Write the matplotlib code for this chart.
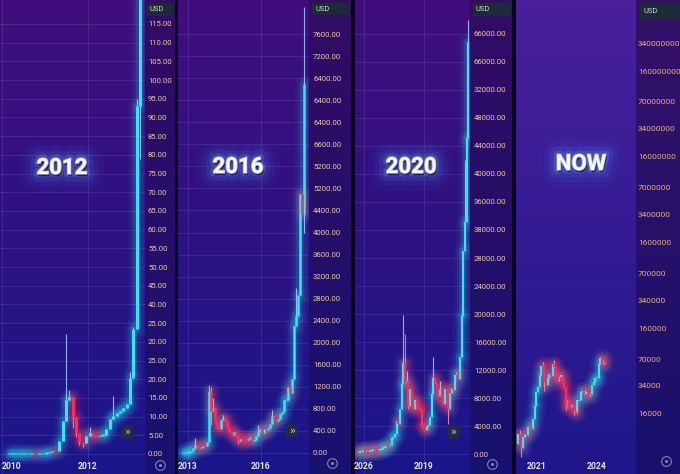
import numpy as np
import matplotlib
matplotlib.use('Agg')
import matplotlib.pyplot as plt
from matplotlib.patches import Rectangle, FancyBboxPatch
import matplotlib.patheffects as pe
from matplotlib.ticker import NullLocator

plt.rcParams['font.family'] = ['Roboto', 'DejaVu Sans']

W, H = 680, 474

# ---------------- data (monthly candles) ----------------
# Panel 1 : Jan 2010 - Apr 2013
p1_start = 2010.0
p1_open0 = 0.05
p1_close = [0.05, 0.05, 0.05, 0.05, 0.05, 0.05, 0.07, 0.07, 0.06, 0.19, 0.21, 0.30,
            0.5, 0.9, 0.8, 3.5, 8.7, 14.5, 15.2, 10.0, 5.5, 3.3, 2.9, 4.7,
            5.5, 4.9, 4.8, 5.0, 5.2, 6.6, 9.3, 10.1, 11.0, 11.6, 12.3, 13.4,
            20.4, 33.4, 93.0, 139.0]
p1_hi_idx = [17, 18, 24, 31, 36, 37, 38, 39]
p1_hi_val = [32, 17, 7.2, 15.5, 22, 34, 95, 266]
p1_lo_idx = [19, 20, 21, 22, 39]
p1_lo_val = [7.0, 4.5, 2.3, 2.0, 79]
p1_ticks = [115, 110, 105, 100, 95, 90, 85, 80, 75, 70, 65, 60, 55, 50, 45, 40, 35, 30, 25, 20, 15, 10, 5, 0]
p1_labels = ['115.00', '110.00', '105.00', '100.00', '95.00', '90.00', '85.00', '80.00', '75.00',
             '70.00', '65.00', '60.00', '55.00', '50.00', '45.00', '40.00', '25.00', '20.00',
             '25.00', '20.00', '15.00', '10.00', '5.00', '0.00']
p1_xticks = [2009.88, 2012]
p1_xlabels = ['2010', '2012']

# Panel 2 : Oct 2012 - Oct 2017
p2_start = 2012.75
p2_open0 = 11.0
p2_close = [11.6, 12.3, 13.4,
            20.4, 33.4, 93, 139, 129, 97, 106, 135, 133, 204, 1130, 754,
            820, 560, 460, 440, 600, 630, 580, 470, 380, 330, 375, 310,
            217, 254, 244, 236, 230, 263, 284, 230, 236, 314, 377, 430,
            368, 437, 416, 448, 531, 673, 624, 575, 609, 700, 742, 963,
            970, 1190, 1080, 1348, 2300, 2480, 2875, 4700, 4340, 6700]
p2_hi_idx = [6, 13, 14, 15, 20, 37, 44, 56, 60]
p2_hi_val = [266, 1240, 1200, 1000, 690, 500, 780, 3000, 8100]
p2_lo_idx = [14, 27, 60]
p2_lo_val = [500, 170, 4000]
p2_ticks = [7600, 7200, 6800, 6400, 6000, 5600, 5200, 4800, 4400, 4000, 3600, 3200,
            2800, 2400, 2000, 1600, 1200, 800, 400, 0]
p2_labels = ['7600.00', '7200.00', '6400.00', '6400.00', '6400.00', '6600.00', '5200.00',
             '5200.00', '4400.00', '4000.00', '3600.00', '3200.00', '2800.00', '2400.00',
             '2000.00', '1600.00', '1200.00', '800.00', '400.00', '0.00']
p2_xticks = [2013, 2016]
p2_xlabels = ['2013', '2016']

# Panel 3 : Aug 2015 - Mar 2021
p3_start = 2015.0 + 7 / 12
p3_open0 = 280
p3_close = [230, 236, 314, 377, 430,
            368, 437, 416, 448, 531, 673, 624, 575, 609, 700, 742, 963,
            970, 1190, 1080, 1348, 2300, 2480, 2875, 4700, 4340, 6470, 9950, 13000,
            10200, 10400, 6900, 9240, 7500, 6400, 7730, 7030, 6630, 6370, 4040, 3740,
            3460, 3850, 4100, 5350, 8570, 10800, 10100, 9630, 8290, 9200, 7570, 7200,
            9350, 8600, 6440, 8660, 9460, 9140, 11350, 11650, 10780, 13800, 19700, 29000,
            33100, 45200, 58800]
p3_hi_idx = [28, 29, 30, 46, 50, 65, 66, 67]
p3_hi_val = [19800, 17200, 11800, 13800, 10500, 42000, 58000, 62000]
p3_lo_idx = [31, 55]
p3_lo_val = [6500, 4300]
p3_ticks = [60000, 56000, 52000, 48000, 44000, 40000, 36000, 32000, 28000, 24000, 20000,
            16000, 12000, 8000, 4000, 0]
p3_labels = ['66000.00', '66000.00', '32000.00', '48000.00', '44000.00', '40000.00', '36000.00',
             '38000.00', '28000.00', '24000.00', '20000.00', '16000.00', '12000.00', '8000.00',
             '4000.00', '0.00']
p3_xticks = [2016, 2019]
p3_xlabels = ['2026', '2019']

# Panel 4 : Jan 2020 - Jun 2024 (log scale)
p4_start = 2020.0
p4_open0 = 7200
p4_close = [9350, 8600, 6440, 8660, 9460, 9140, 11350, 11650, 10780, 13800, 19700, 29000,
            33100, 45200, 58800, 57700, 37300, 35000, 41500, 47100, 43800, 61300, 57000, 46300,
            38500, 43200, 45500, 37700, 31800, 19900, 23300, 20000, 19400, 20500, 17200, 16500,
            23100, 23100, 28500, 29200, 27200, 30500, 29200, 26000, 27000, 34500, 37700, 42300,
            42600, 61100, 71300, 60600, 67500, 62700]
p4_hi_idx = [1, 15, 22, 50]
p4_hi_val = [10500, 64800, 69000, 73800]
p4_lo_idx = [2, 16, 29, 34]
p4_lo_val = [5000, 30000, 17600, 15500]
p4_ticks = [340000000, 160000000, 70000000, 34000000, 16000000, 7000000, 3400000, 1600000,
            700000, 340000, 160000, 70000, 34000, 16000]
p4_labels = ['340000000', '160000000', '70000000', '34000000', '16000000', '7000000', '3400000',
             '1600000', '700000', '340000', '160000', '70000', '34000', '16000']
p4_xticks = [2021, 2024]
p4_xlabels = ['2021', '2024']

titles = ['2012', '2016', '2020', 'NOW']

# ---------------- styling ----------------
UP, DN = '#34e6f2', '#ff2a5a'
UPW, DNW = '#9fd2ff', '#ff8aa6'
LABEL_COL = '#efc6a2'

fig = plt.figure(figsize=(W / 100, H / 100), dpi=100)


def vgrad(top, bot):
    t = np.linspace(0, 1, H)[:, None]
    return (1 - t) * np.array(top)[None, :] / 255 + t * np.array(bot)[None, :] / 255


img = np.zeros((H, W, 3))
plotA = vgrad((64, 14, 124), (26, 22, 138))
labA = vgrad((50, 12, 100), (23, 18, 112))
plotB = vgrad((74, 32, 156), (30, 22, 138))
labB = vgrad((52, 16, 104), (24, 16, 108))
sep = vgrad((12, 5, 28), (10, 6, 30))
regions = [(0, 145, plotA), (145, 175, labA), (175, 178, sep),
           (178, 309, plotA), (309, 351, labA), (351, 355, sep),
           (355, 470, plotA), (470, 512, labA), (512, 516, sep),
           (516, 636, plotB), (636, 680, labB)]
for x0, x1, g in regions:
    img[:, x0:x1, :] = g[:, None, :]
bg = fig.add_axes([0, 0, 1, 1], zorder=-5)
bg.imshow(img, aspect='auto', extent=(0, W, H, 0), interpolation='bilinear')
bg.axis('off')


def candles(ax, start, open0, close, hi_idx, hi_val, lo_idx, lo_val, body_lw, min_body, log=False):
    n = len(close)
    x = start + (np.arange(n) + 0.5) / 12.0
    c = np.array(close, float)
    o = np.concatenate([[open0], c[:-1]])
    top = np.maximum(o, c)
    bot = np.minimum(o, c)
    hi = top.copy()
    lo = bot.copy()
    for i, v in zip(hi_idx, hi_val):
        hi[i] = max(hi[i], v)
    for i, v in zip(lo_idx, lo_val):
        lo[i] = min(lo[i], v)
    if log:
        small = top / bot < min_body
        mid = np.sqrt(top * bot)
        top = np.where(small, mid * np.sqrt(min_body), top)
        bot = np.where(small, mid / np.sqrt(min_body), bot)
    else:
        small = (top - bot) < min_body
        mid = (top + bot) / 2
        top = np.where(small, mid + min_body / 2, top)
        bot = np.where(small, mid - min_body / 2, bot)
    up = c >= o
    for mask, col, wcol, k in [(up, UP, UPW, 1.0), (~up, DN, DNW, 1.4)]:
        if not mask.any():
            continue
        for lw, a in [(14, 0.04), (9.5, 0.07), (5.5, 0.13)]:
            ax.vlines(x[mask], bot[mask], top[mask], colors=col, linewidth=lw, alpha=min(a * k, 1),
                      capstyle='round', zorder=2)
        ax.vlines(x[mask], lo[mask], hi[mask], colors=wcol, linewidth=0.8, alpha=0.85, zorder=3)
        ax.vlines(x[mask], bot[mask], top[mask], colors=col, linewidth=body_lw,
                  capstyle='butt', zorder=4)


def panel(px0, px1, xl, yl, ticks, labels, xticks, xlabels, pad_px, log=False, grid=True,
          lab_col=LABEL_COL):
    ax = fig.add_axes([px0 / W, 0, (px1 - px0) / W, 1], zorder=1)
    ax.patch.set_alpha(0)
    for s in ax.spines.values():
        s.set_visible(False)
    if log:
        ax.set_yscale('log')
    ax.set_xlim(*xl)
    ax.set_ylim(*yl)
    ax.yaxis.tick_right()
    ax.set_yticks(ticks)
    ax.set_yticklabels(labels)
    ax.yaxis.set_minor_locator(NullLocator())
    ax.tick_params(axis='y', length=0, pad=pad_px * 0.72, labelsize=5.6, labelcolor=lab_col)
    ax.set_xticks(xticks)
    ax.set_xticklabels(xlabels)
    ax.tick_params(axis='x', length=0, pad=-8.6, labelsize=6.2, labelcolor='#e6e6f2')
    for t in ax.get_xticklabels():
        t.set_fontweight('bold')
    if grid:
        ax.grid(True, color='#c9a8ff', alpha=0.16, linewidth=0.6)
        ax.set_axisbelow(True)
    return ax


ax1 = panel(0, 145, (2009.83, 2013.41), (-5.35, 121.4), p1_ticks, p1_labels, p1_xticks, p1_xlabels, 3)
ax1.get_xticklabels()[0].set_horizontalalignment('left')
candles(ax1, p1_start, p1_open0, p1_close, p1_hi_idx, p1_hi_val, p1_lo_idx, p1_lo_val, 2.2, 0.35)

ax2 = panel(178, 309, (2012.59, 2017.98), (-381, 8218), p2_ticks, p2_labels, p2_xticks, p2_xlabels, 4)
candles(ax2, p2_start, p2_open0, p2_close, p2_hi_idx, p2_hi_val, p2_lo_idx, p2_lo_val, 1.8, 28)

ax3 = panel(355, 470, (2015.55, 2021.3), (-2857, 64857), p3_ticks, p3_labels, p3_xticks, p3_xlabels, 4)
candles(ax3, p3_start, p3_open0, p3_close, p3_hi_idx, p3_hi_val, p3_lo_idx, p3_lo_val, 1.6, 220)

ax4 = panel(516, 636, (2019.93, 2026.02), (3190, 1.08e9), p4_ticks, p4_labels, p4_xticks, p4_xlabels, 2,
            log=True, grid=False, lab_col='#ecad74')
ax4.tick_params(axis='y', labelsize=6.0)
candles(ax4, p4_start, p4_open0, p4_close, p4_hi_idx, p4_hi_val, p4_lo_idx, p4_lo_val, 1.6, 1.03, log=True)

# ---------------- overlay decorations ----------------
ov = fig.add_axes([0, 0, 1, 1], zorder=5)
ov.set_xlim(0, W)
ov.set_ylim(H, 0)
ov.axis('off')
ov.patch.set_alpha(0)

for x0, x1, y1 in [(147, 173, 16), (312, 350, 15), (473, 511, 16), (640, 680, 20)]:
    ov.add_patch(Rectangle((x0, 3), x1 - x0, y1 - 3, facecolor='#1d2a38', edgecolor='none'))
    ov.text(x0 + 3, (3 + y1) / 2, 'USD', color='#d6dcc6', fontsize=5.4, va='center', ha='left')

for cx, cy in [(127, 432), (292, 431), (453, 432)]:
    ov.add_patch(FancyBboxPatch((cx - 6, cy - 6.5), 12, 13, boxstyle='round,pad=0,rounding_size=2',
                                facecolor='#262c3e', edgecolor='none', alpha=0.95))
    ov.text(cx, cy, '»', color='#c8ccd8', fontsize=7, ha='center', va='center', family='DejaVu Sans')

for cx, cy in [(160, 465), (332, 463), (492, 464), (666, 461)]:
    ov.plot([cx], [cy], marker='o', ms=7, mfc='none', mec='#7f86b8', mew=0.8)
    ov.plot([cx], [cy], marker='o', ms=2.2, mfc='#7f86b8', mec='none')

title_fx = [pe.Stroke(linewidth=26, foreground='#3466e0', alpha=0.05),
            pe.Stroke(linewidth=18, foreground='#3f7cf5', alpha=0.08),
            pe.Stroke(linewidth=11, foreground='#5590ff', alpha=0.13),
            pe.Stroke(linewidth=5, foreground='#7aaaff', alpha=0.2),
            pe.SimplePatchShadow(offset=(0.8, -1.6), shadow_rgbFace='#1f2438', alpha=0.95),
            pe.Stroke(linewidth=1.0, foreground='#a8b0c4'),
            pe.Normal()]
for (cx, cy), t in zip([(62, 168), (238, 167), (411, 167), (581, 164)], titles):
    ov.text(cx, cy, t, color='#f4f6fa', fontsize=16, fontweight='bold', ha='center', va='center',
            path_effects=title_fx)

fig.savefig('out.png', dpi=100)
